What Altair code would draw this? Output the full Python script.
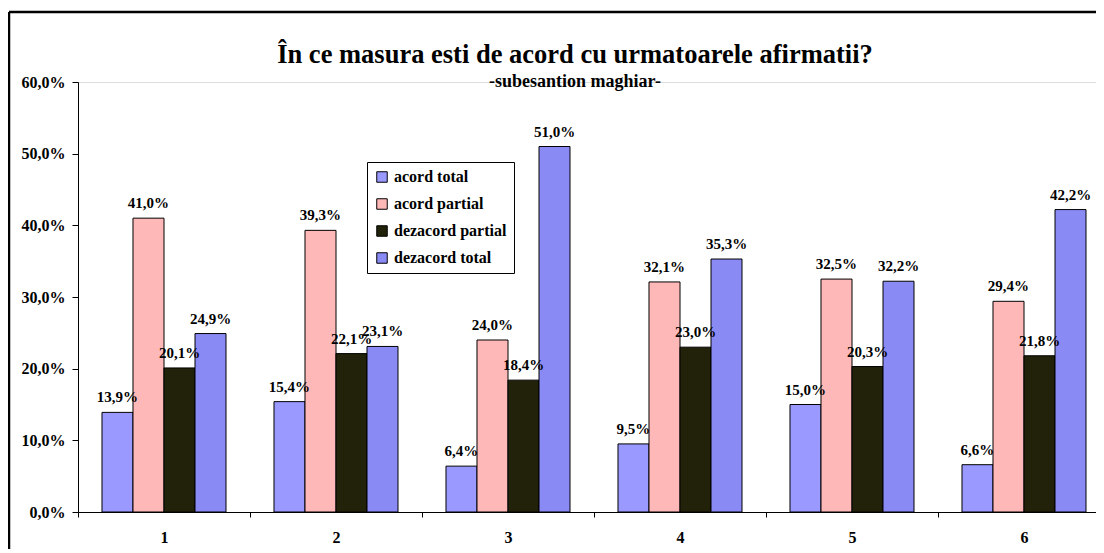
import altair as alt
import pandas as pd

categories = ["1", "2", "3", "4", "5", "6"]
series = ["acord total", "acord partial", "dezacord partial", "dezacord total"]
acord_total = [13.9, 15.4, 6.4, 9.5, 15.0, 6.6]
acord_partial = [41.0, 39.3, 24.0, 32.1, 32.5, 29.4]
dezacord_partial = [20.1, 22.1, 18.4, 23.0, 20.3, 21.8]
dezacord_total = [24.9, 23.1, 51.0, 35.3, 32.2, 42.2]
colors = ["#9999FF", "#FFB8B8", "#22220A", "#8A8AF5"]
y_ticks = [0.0, 0.1, 0.2, 0.3, 0.4, 0.5, 0.6]

rows = []
for name, vals in zip(series, [acord_total, acord_partial, dezacord_partial, dezacord_total]):
    for c, v in zip(categories, vals):
        rows.append({"cat": c, "serie": name, "val": v / 100.0})
df = pd.DataFrame(rows)

FONT = "Liberation Serif"
W, H = 1018, 430
STEP = 172

x_enc = alt.X(
    "cat:N", sort=categories, title=None,
    scale=alt.Scale(range=[0, STEP * len(categories)], paddingInner=0, paddingOuter=0),
    axis=alt.Axis(labelAngle=0, tickBand="extent", tickSize=5, labelPadding=12,
                  labelFontSize=16, labelFont=FONT, labelFontWeight="bold",
                  labelColor="black", domainColor="black", tickColor="black"),
)
xo_enc = alt.XOffset("serie:N", sort=series,
                     scale=alt.Scale(paddingInner=0, paddingOuter=0.774))
y_enc = alt.Y(
    "val:Q", title=None,
    scale=alt.Scale(domain=[0, 0.6], nice=False),
    axis=alt.Axis(values=y_ticks,
                  labelExpr="replace(format(datum.value, '.1%'), '.', ',')",
                  tickSize=6, labelPadding=7, labelFontSize=16, labelFont=FONT,
                  labelFontWeight="bold", labelColor="black",
                  domainColor="black", tickColor="black", grid=False),
)
color_enc = alt.Color(
    "serie:N", sort=series,
    scale=alt.Scale(domain=series, range=colors),
    legend=alt.Legend(orient="none", legendX=289, legendY=80, title=None,
                      strokeColor="black", fillColor="white", padding=7,
                      rowPadding=11, symbolType="square", symbolSize=110,
                      symbolStrokeColor="black", symbolStrokeWidth=1,
                      symbolOpacity=1, labelOffset=4,
                      labelFontSize=16, labelFont=FONT, labelFontWeight="bold",
                      labelColor="black"),
)

base = alt.Chart(df)

bars = base.mark_bar(stroke="black", strokeWidth=1, opacity=1).encode(
    x=x_enc, xOffset=xo_enc, y=y_enc, color=color_enc
)

labels = base.transform_calculate(
    lab="replace(format(datum.val, '.1%'), '.', ',')"
).mark_text(dy=-10, baseline="alphabetic", align="center", fontSize=15,
            fontWeight="bold", font=FONT, color="black").encode(
    x=x_enc, xOffset=xo_enc, y=y_enc, text="lab:N"
)

frame_df = pd.DataFrame({"k": [0]})
left_line = alt.Chart(frame_df).mark_rule(color="black", strokeWidth=2.5).encode(
    x=alt.value(-69), y=alt.value(-70), y2=alt.value(H + 80)
)
top_line = alt.Chart(frame_df).mark_rule(color="black", strokeWidth=2.5).encode(
    x=alt.value(-69), x2=alt.value(W + 40), y=alt.value(-70)
)

chart = alt.layer(bars, labels, left_line, top_line).properties(
    width=W, height=H,
    padding={"left": 70, "top": 74, "right": 0, "bottom": 37},
    autosize=alt.AutoSizeParams(type="none"),
    title=alt.TitleParams(
        text="În ce masura esti de acord cu urmatoarele afirmatii?",
        subtitle="-subesantion maghiar-",
        font=FONT, fontSize=26.5, fontWeight="bold", color="black",
        subtitleFont=FONT, subtitleFontSize=18, subtitleFontWeight="bold",
        subtitleColor="black", anchor="middle", dx=-12, offset=-80,
        subtitlePadding=4,
    ),
).configure_view(stroke=None).configure(background="white")

chart.save("out.html", embed_options={"renderer": "svg", "actions": False})
